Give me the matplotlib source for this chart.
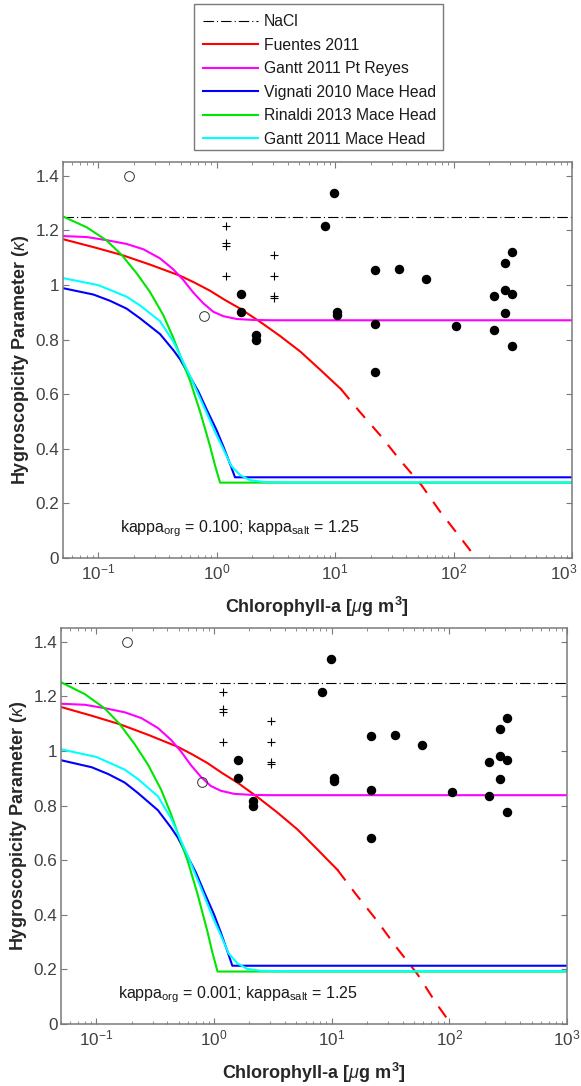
import numpy as np
import matplotlib
matplotlib.use("Agg")
import matplotlib.pyplot as plt
from matplotlib.patches import Rectangle
from matplotlib.transforms import ScaledTranslation
from matplotlib.ticker import LogLocator, FixedLocator, NullFormatter, LogFormatterMathtext

plt.rcParams['font.family'] = ['Liberation Sans', 'DejaVu Sans']
plt.rcParams['mathtext.fontset'] = 'custom'
plt.rcParams['mathtext.rm'] = 'Liberation Sans'
plt.rcParams['mathtext.it'] = 'Liberation Sans:italic'
plt.rcParams['mathtext.bf'] = 'Liberation Sans:bold'
plt.rcParams['lines.scale_dashes'] = False

# Hygroscopicity of the pure components
KAPPA_SALT = 1.25
KAPPA_ORG = [0.100, 0.001]

# Organic volume fraction of sea spray vs chlorophyll-a [ug m-3] for each parameterisation
chl_fuentes = [0.0507, 0.091, 0.158, 0.275, 0.49, 0.65, 0.88, 1.17, 1.58, 2.33, 3.43, 5.1,
               7.46, 11.2, 16.2, 24.4, 35.3, 53.6, 76.9, 117, 174]
omf_fuentes = [0.072, 0.097, 0.122, 0.153, 0.188, 0.210, 0.236, 0.265, 0.293, 0.335, 0.380,
               0.430, 0.487, 0.549, 0.622, 0.699, 0.775, 0.855, 0.939, 1.027, 1.112]
FUENTES_FIT_MAX = 11.2  # fit is extrapolated (dashed) beyond this chlorophyll level

chl_gantt_pr = [0.0508, 0.08, 0.118, 0.174, 0.241, 0.333, 0.431, 0.524, 0.636, 0.772, 0.938,
                1.14, 1.48, 2.04, 3.0, 1000]
omf_gantt_pr = [0.062, 0.065, 0.075, 0.087, 0.104, 0.133, 0.168, 0.202, 0.242, 0.276, 0.303,
                0.317, 0.326, 0.329, 0.330, 0.330]

chl_vignati = [0.0508, 0.091, 0.126, 0.174, 0.226, 0.333, 0.431, 0.491, 0.596, 0.70, 0.824,
               1.0, 1.14, 1.30, 1.43, 1000]
omf_vignati = [0.228, 0.248, 0.268, 0.293, 0.324, 0.374, 0.425, 0.454, 0.510, 0.556, 0.614,
               0.680, 0.732, 0.788, 0.830, 0.830]

chl_rinaldi = [0.0508, 0.08, 0.118, 0.158, 0.211, 0.274, 0.355, 0.431, 0.507, 0.596, 0.724,
               0.879, 0.969, 1.07, 1000]
omf_rinaldi = [0.0, 0.034, 0.076, 0.122, 0.180, 0.240, 0.314, 0.386, 0.455, 0.522, 0.620,
               0.730, 0.792, 0.847, 0.847]

chl_gantt_mh = [0.0508, 0.10, 0.174, 0.226, 0.333, 0.431, 0.596, 0.824, 0.97, 1.14, 1.33,
                1.58, 1.91, 2.5, 4.0, 1000]
omf_gantt_mh = [0.196, 0.218, 0.255, 0.283, 0.333, 0.398, 0.507, 0.625, 0.686, 0.740, 0.794,
                0.823, 0.839, 0.845, 0.846, 0.846]

# Observations
obs_chl = [1.6, 1.6, 2.16, 2.16, 9.8, 8.2, 10.4, 10.4, 21.7, 21.7, 21.7, 34.7, 58,
           105, 219, 219, 270, 270, 270, 310, 310, 310]
obs_kappa = [0.965, 0.899, 0.815, 0.800, 1.335, 1.214, 0.902, 0.890, 1.055, 0.858, 0.681,
             1.059, 1.021, 0.849, 0.960, 0.836, 1.081, 0.982, 0.896, 1.120, 0.965, 0.776]
open_chl = [0.182, 0.79]
open_kappa = [1.40, 0.885]
plus_chl = [1.2, 1.2, 1.2, 1.2, 3.07, 3.07, 3.07, 3.07]
plus_kappa = [1.214, 1.155, 1.142, 1.034, 1.110, 1.034, 0.959, 0.952]

MODELS = [
    ("Fuentes 2011", chl_fuentes, omf_fuentes, "#ff0000"),
    ("Gantt 2011 Pt Reyes", chl_gantt_pr, omf_gantt_pr, "#ff00ff"),
    ("Vignati 2010 Mace Head", chl_vignati, omf_vignati, "#0000ff"),
    ("Rinaldi 2013 Mace Head", chl_rinaldi, omf_rinaldi, "#00e600"),
    ("Gantt 2011 Mace Head", chl_gantt_mh, omf_gantt_mh, "#00ffff"),
]

SPINE = "#7a7a7a"
TICKTXT = "#404040"
LABEL = "#262626"


def mix_kappa(omf, k_org):
    omf = np.asarray(omf, dtype=float)
    return (1.0 - omf) * KAPPA_SALT + omf * k_org


def draw_panel(ax, k_org):
    handles = []
    h, = ax.plot([0.05, 1000], [KAPPA_SALT, KAPPA_SALT], color="k", lw=0.8,
                 dashes=(7.5, 2.2, 0.8, 2.2), label="NaCl")
    handles.append(h)
    for name, chl, omf, col in MODELS:
        chl = np.asarray(chl, dtype=float)
        kap = mix_kappa(omf, k_org)
        if name.startswith("Fuentes"):
            solid = chl <= FUENTES_FIT_MAX
            h, = ax.plot(chl[solid], kap[solid], color=col, lw=1.5, label=name)
            ext = chl >= FUENTES_FIT_MAX
            ax.plot(chl[ext], kap[ext], color=col, lw=1.5, dashes=(9.5, 8.0))
        else:
            h, = ax.plot(chl, kap, color=col, lw=1.5, label=name)
        handles.append(h)

    ax.plot(obs_chl, obs_kappa, ls="none", marker="o", ms=5.8, mfc="k", mec="k", zorder=5)
    ax.plot(open_chl, open_kappa, ls="none", marker="o", ms=7.0, mfc="none", mec="#333333",
            mew=0.7, zorder=5)
    ax.plot(plus_chl, plus_kappa, ls="none", marker="+", ms=6, mec="k", mew=0.8, zorder=5)

    ax.set_xscale("log")
    ax.set_xlim(0.05, 1000)
    ax.set_ylim(0, 1.45)
    ax.xaxis.set_major_locator(FixedLocator([0.1, 1, 10, 100, 1000]))
    ax.xaxis.set_major_formatter(LogFormatterMathtext())
    ax.xaxis.set_minor_locator(LogLocator(base=10, subs=np.arange(2, 10), numticks=20))
    ax.xaxis.set_minor_formatter(NullFormatter())
    ax.set_yticks([0, 0.2, 0.4, 0.6, 0.8, 1.0, 1.2, 1.4])
    ax.set_yticklabels(["0", "0.2", "0.4", "0.6", "0.8", "1", "1.2", "1.4"])
    ax.tick_params(which="both", direction="in", top=True, right=True, color=SPINE,
                   labelcolor=TICKTXT, labelsize=12.3)
    ax.tick_params(which="major", length=4, width=0.8)
    ax.tick_params(which="minor", length=2.2, width=0.6)
    ax.tick_params(axis="y", which="major", pad=2.5)
    ax.tick_params(axis="x", which="major", pad=3.5)
    for s in ax.spines.values():
        s.set_color(SPINE)
        s.set_linewidth(1.1)

    ax.set_ylabel(r"Hygroscopicity Parameter ($\kappa$)", fontsize=13, fontweight="bold",
                  color=LABEL, labelpad=3)
    ax.set_xlabel(r"Chlorophyll-a [$\mu$g m$^{\mathbf{3}}$]", fontsize=13,
                  fontweight="bold", color=LABEL, labelpad=9)
    ax.text(0.152, 0.093, r"kappa$_{\mathrm{org}}$ = %.3f; kappa$_{\mathrm{salt}}$ = %.2f"
            % (k_org, KAPPA_SALT), fontsize=11.5, color="#1a1a1a", va="baseline")
    return handles


W, H = 581, 1086
fig = plt.figure(figsize=(W / 100, H / 100), dpi=100)
ax_top = fig.add_axes([62.5 / W, (H - 558) / H, 509.5 / W, 396 / H])
ax_bot = fig.add_axes([61 / W, (H - 1024) / H, 506 / W, 396 / H])

handles = draw_panel(ax_top, KAPPA_ORG[0])
draw_panel(ax_bot, KAPPA_ORG[1])

# keep the last decade label of the upper panel inside the figure
last_tick = ax_top.xaxis.get_major_ticks()[-1]
last_tick.label1.set_transform(last_tick.label1.get_transform()
                               + ScaledTranslation(-6 / 72, 0, fig.dpi_scale_trans))

# legend frame, then the entries on top of it
fig.patches.append(Rectangle((194 / W, 1 - 150 / H), (443 - 194) / W, (150 - 4) / H,
                             transform=fig.transFigure, facecolor="white",
                             edgecolor=SPINE, lw=1.0, zorder=1))
leg = fig.legend(handles=handles, loc="upper left", bbox_to_anchor=(203 / W, 1 - 14.5 / H),
                 fontsize=11.3, frameon=False, handlelength=3.5, handletextpad=0.38,
                 labelspacing=0.54, borderpad=0, borderaxespad=0)
leg.set_zorder(5)
for t in leg.get_texts():
    t.set_color("#1a1a1a")

fig.savefig("out.png", dpi=100)
